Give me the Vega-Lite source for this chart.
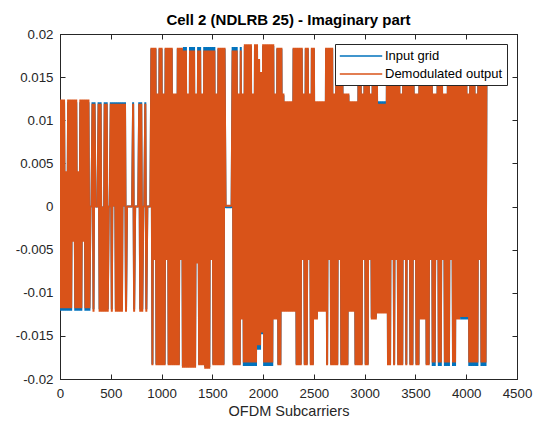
{
"$schema": "https://vega.github.io/schema/vega-lite/v6.json",
"width": 457, "height": 345,
"autosize": "none",
"padding": {"left": 60, "top": 34, "right": 22, "bottom": 46},
"background": "white",
"title": {"text": "Cell 2 (NDLRB 25) - Imaginary part", "font": "Liberation Sans", "fontSize": 15, "fontWeight": "bold", "color": "#000000", "offset": -1},
"config": {"view": {"stroke": "#262626", "strokeWidth": 1}},
"data": {"values": [
{"sc":0,"input":0.0121,"output":0.0124},{"sc":10,"input":-0.0121,"output":-0.0118},{"sc":20,"input":0.0121,"output":0.0124},{"sc":30,"input":-0.0121,"output":-0.0118},{"sc":40,"input":0.0121,"output":0.0124},{"sc":50,"input":-0.0121,"output":-0.0118},{"sc":60,"input":0.004,"output":0.0041},{"sc":70,"input":-0.0121,"output":-0.0118},{"sc":80,"input":0.0121,"output":0.0124},{"sc":90,"input":-0.0121,"output":-0.0118},
{"sc":100,"input":0.0121,"output":0.0124},{"sc":110,"input":-0.0121,"output":-0.0118},{"sc":120,"input":0.0121,"output":0.0124},{"sc":130,"input":-0.004,"output":-0.0041},{"sc":140,"input":0.0121,"output":0.0124},{"sc":150,"input":-0.0121,"output":-0.0118},{"sc":160,"input":0.0121,"output":0.0124},{"sc":170,"input":-0.0121,"output":-0.0118},{"sc":180,"input":0.004,"output":0.0041},{"sc":190,"input":-0.0121,"output":-0.0118},
{"sc":200,"input":0.0121,"output":0.0124},{"sc":210,"input":-0.0121,"output":-0.0118},{"sc":220,"input":0.0121,"output":0.0124},{"sc":230,"input":-0.004,"output":-0.0041},{"sc":240,"input":0.0121,"output":0.0124},{"sc":250,"input":-0.0121,"output":-0.0118},{"sc":260,"input":0.0121,"output":0.0124},{"sc":270,"input":-0.0121,"output":-0.0118},{"sc":280,"input":0.0121,"output":0.0124},{"sc":290,"input":-0.0121,"output":-0.0118},
{"sc":300,"input":0,"output":0},{"sc":310,"input":0,"output":0},{"sc":320,"input":0.0121,"output":0.0119},{"sc":330,"input":-0.0119,"output":-0.0122},{"sc":340,"input":0.0121,"output":0.0119},{"sc":350,"input":0,"output":0},{"sc":360,"input":0,"output":0},{"sc":370,"input":0,"output":0},{"sc":380,"input":0.0121,"output":0.0119},{"sc":390,"input":-0.0119,"output":-0.0122},
{"sc":400,"input":0.0121,"output":0.0119},{"sc":410,"input":-0.0119,"output":-0.0122},{"sc":420,"input":0,"output":0},{"sc":430,"input":-0.0119,"output":-0.0122},{"sc":440,"input":0.0121,"output":0.0119},{"sc":450,"input":-0.0119,"output":-0.0122},{"sc":460,"input":0.0121,"output":0.0119},{"sc":470,"input":-0.0119,"output":-0.0122},{"sc":480,"input":0,"output":0},{"sc":490,"input":0,"output":0},
{"sc":500,"input":0.0121,"output":0.0119},{"sc":510,"input":-0.0119,"output":-0.0122},{"sc":520,"input":0.0121,"output":0.0119},{"sc":530,"input":0,"output":0},{"sc":540,"input":0.0121,"output":0.0119},{"sc":550,"input":-0.0119,"output":-0.0122},{"sc":560,"input":0.0121,"output":0.0119},{"sc":570,"input":-0.0119,"output":-0.0122},{"sc":580,"input":0.0121,"output":0.0119},{"sc":590,"input":-0.0119,"output":-0.0122},
{"sc":600,"input":0.0121,"output":0.0119},{"sc":610,"input":-0.0119,"output":-0.0122},{"sc":620,"input":0.0121,"output":0.0119},{"sc":630,"input":0,"output":0},{"sc":640,"input":0.0121,"output":0.0119},{"sc":650,"input":-0.0119,"output":-0.0122},{"sc":660,"input":0,"output":0},{"sc":670,"input":0,"output":0},{"sc":680,"input":0,"output":0},{"sc":690,"input":0,"output":0},
{"sc":700,"input":0,"output":0},{"sc":710,"input":0,"output":0},{"sc":720,"input":0.0121,"output":0.0119},{"sc":730,"input":-0.0119,"output":-0.0122},{"sc":740,"input":0,"output":0},{"sc":750,"input":0,"output":0},{"sc":760,"input":0,"output":0},{"sc":770,"input":0,"output":0},{"sc":780,"input":0.0121,"output":0.0119},{"sc":790,"input":-0.0119,"output":-0.0122},
{"sc":800,"input":0.0121,"output":0.0119},{"sc":810,"input":-0.0119,"output":-0.0122},{"sc":820,"input":0,"output":0},{"sc":830,"input":0,"output":0},{"sc":840,"input":0.0121,"output":0.0119},{"sc":850,"input":-0.0119,"output":-0.0122},{"sc":860,"input":0,"output":0},{"sc":870,"input":0,"output":0},{"sc":880,"input":0,"output":0},{"sc":890,"input":0,"output":0},
{"sc":900,"input":0.0183,"output":0.0184},{"sc":910,"input":-0.0183,"output":-0.0184},{"sc":920,"input":0.0183,"output":0.0184},{"sc":930,"input":-0.0061,"output":-0.0062},{"sc":940,"input":0.0183,"output":0.0184},{"sc":950,"input":-0.0183,"output":-0.0184},{"sc":960,"input":0.0129,"output":0.0131},{"sc":970,"input":-0.0183,"output":-0.0184},{"sc":980,"input":0.0183,"output":0.0184},{"sc":990,"input":-0.0183,"output":-0.0184},
{"sc":1000,"input":0.0183,"output":0.0184},{"sc":1010,"input":-0.0183,"output":-0.0184},{"sc":1020,"input":0.0129,"output":0.0131},{"sc":1030,"input":-0.0183,"output":-0.0184},{"sc":1040,"input":0.0183,"output":0.0184},{"sc":1050,"input":-0.0061,"output":-0.0062},{"sc":1060,"input":0.0183,"output":0.0184},{"sc":1070,"input":-0.0183,"output":-0.0184},{"sc":1080,"input":0.0183,"output":0.0184},{"sc":1090,"input":-0.0183,"output":-0.0184},
{"sc":1100,"input":0.0183,"output":0.0184},{"sc":1110,"input":-0.0183,"output":-0.0184},{"sc":1120,"input":0.0129,"output":0.0131},{"sc":1130,"input":-0.0183,"output":-0.0184},{"sc":1140,"input":0.0129,"output":0.0131},{"sc":1150,"input":-0.0183,"output":-0.0184},{"sc":1160,"input":0.0183,"output":0.0184},{"sc":1170,"input":-0.0183,"output":-0.0184},{"sc":1180,"input":0.0183,"output":0.0184},{"sc":1190,"input":-0.0061,"output":-0.0062},
{"sc":1200,"input":0.0183,"output":0.0184},{"sc":1210,"input":-0.0185,"output":-0.0187},{"sc":1220,"input":0.0185,"output":0.0181},{"sc":1230,"input":-0.0185,"output":-0.0187},{"sc":1240,"input":0.0185,"output":0.0181},{"sc":1250,"input":-0.0185,"output":-0.0187},{"sc":1260,"input":0.0129,"output":0.0131},{"sc":1270,"input":-0.0185,"output":-0.0187},{"sc":1280,"input":0.0185,"output":0.0181},{"sc":1290,"input":-0.0185,"output":-0.0187},
{"sc":1300,"input":0.0185,"output":0.0181},{"sc":1310,"input":-0.0185,"output":-0.0187},{"sc":1320,"input":0.0185,"output":0.0181},{"sc":1330,"input":-0.0185,"output":-0.0187},{"sc":1340,"input":0.0129,"output":0.0131},{"sc":1350,"input":-0.0065,"output":-0.0066},{"sc":1360,"input":0.0185,"output":0.0181},{"sc":1370,"input":-0.0183,"output":-0.0184},{"sc":1380,"input":0.0185,"output":0.0181},{"sc":1390,"input":-0.0183,"output":-0.0184},
{"sc":1400,"input":0.0129,"output":0.0131},{"sc":1410,"input":-0.0183,"output":-0.0184},{"sc":1420,"input":0.0185,"output":0.0181},{"sc":1430,"input":-0.0186,"output":-0.0188},{"sc":1440,"input":0.0185,"output":0.0181},{"sc":1450,"input":-0.0186,"output":-0.0188},{"sc":1460,"input":0.0185,"output":0.0181},{"sc":1470,"input":-0.0186,"output":-0.0188},{"sc":1480,"input":0.0185,"output":0.0181},{"sc":1490,"input":-0.0061,"output":-0.0062},
{"sc":1500,"input":0.0185,"output":0.0181},{"sc":1510,"input":-0.0183,"output":-0.0184},{"sc":1520,"input":0.0185,"output":0.0181},{"sc":1530,"input":-0.0183,"output":-0.0184},{"sc":1540,"input":0.0129,"output":0.0131},{"sc":1550,"input":-0.0183,"output":-0.0184},{"sc":1560,"input":0.0183,"output":0.0184},{"sc":1570,"input":-0.0183,"output":-0.0184},{"sc":1580,"input":0.0183,"output":0.0184},{"sc":1590,"input":-0.0183,"output":-0.0184},
{"sc":1600,"input":0.0183,"output":0.0184},{"sc":1610,"input":-0.0183,"output":-0.0184},{"sc":1620,"input":0.0183,"output":0.0184},{"sc":1630,"input":-0.0001,"output":0.0001},{"sc":1640,"input":-0.0001,"output":0.0001},{"sc":1650,"input":-0.0001,"output":0.0001},{"sc":1660,"input":-0.0001,"output":0.0001},{"sc":1670,"input":-0.0001,"output":0.0001},{"sc":1680,"input":-0.0001,"output":0.0001},{"sc":1690,"input":-0.0001,"output":0.0001},
{"sc":1700,"input":0.0185,"output":0.0181},{"sc":1710,"input":-0.0183,"output":-0.0184},{"sc":1720,"input":0.0185,"output":0.0181},{"sc":1730,"input":-0.0183,"output":-0.0184},{"sc":1740,"input":0.0185,"output":0.0181},{"sc":1750,"input":-0.0183,"output":-0.0184},{"sc":1760,"input":0.0129,"output":0.0131},{"sc":1770,"input":-0.0183,"output":-0.0184},{"sc":1780,"input":0.0185,"output":0.0181},{"sc":1790,"input":-0.0129,"output":-0.0131},
{"sc":1800,"input":0.0129,"output":0.0131},{"sc":1810,"input":-0.0185,"output":-0.0181},{"sc":1820,"input":0.0186,"output":0.0188},{"sc":1830,"input":-0.0185,"output":-0.0181},{"sc":1840,"input":0.0186,"output":0.0188},{"sc":1850,"input":-0.0185,"output":-0.0181},{"sc":1860,"input":0.0186,"output":0.0188},{"sc":1870,"input":-0.0185,"output":-0.0181},{"sc":1880,"input":0.0186,"output":0.0188},{"sc":1890,"input":-0.0185,"output":-0.0181},
{"sc":1900,"input":0.0129,"output":0.0131},{"sc":1910,"input":-0.0185,"output":-0.0181},{"sc":1920,"input":0.0186,"output":0.0188},{"sc":1930,"input":-0.0185,"output":-0.0181},{"sc":1940,"input":0.0186,"output":0.0188},{"sc":1950,"input":-0.0166,"output":-0.0161},{"sc":1960,"input":0.017,"output":0.0171},{"sc":1970,"input":-0.0166,"output":-0.0161},{"sc":1980,"input":0.0155,"output":0.0156},{"sc":1990,"input":-0.0148,"output":-0.0146},
{"sc":2000,"input":0.0186,"output":0.0188},{"sc":2010,"input":-0.0185,"output":-0.0181},{"sc":2020,"input":0.0186,"output":0.0188},{"sc":2030,"input":-0.0185,"output":-0.0181},{"sc":2040,"input":0.0186,"output":0.0188},{"sc":2050,"input":-0.0185,"output":-0.0181},{"sc":2060,"input":0.0186,"output":0.0188},{"sc":2070,"input":-0.0185,"output":-0.0181},{"sc":2080,"input":0.0186,"output":0.0188},{"sc":2090,"input":-0.0185,"output":-0.0181},
{"sc":2100,"input":0.0186,"output":0.0188},{"sc":2110,"input":-0.0129,"output":-0.0131},{"sc":2120,"input":0.0129,"output":0.0131},{"sc":2130,"input":-0.0129,"output":-0.0131},{"sc":2140,"input":0.0183,"output":0.0184},{"sc":2150,"input":-0.0183,"output":-0.0184},{"sc":2160,"input":0.0183,"output":0.0184},{"sc":2170,"input":-0.0183,"output":-0.0184},{"sc":2180,"input":0.0183,"output":0.0184},{"sc":2190,"input":-0.0121,"output":-0.0122},
{"sc":2200,"input":0.0129,"output":0.0131},{"sc":2210,"input":-0.0121,"output":-0.0122},{"sc":2220,"input":0.0121,"output":0.0122},{"sc":2230,"input":-0.0121,"output":-0.0122},{"sc":2240,"input":0.0121,"output":0.0122},{"sc":2250,"input":-0.0121,"output":-0.0122},{"sc":2260,"input":0.0121,"output":0.0122},{"sc":2270,"input":-0.0121,"output":-0.0122},{"sc":2280,"input":0.0121,"output":0.0122},{"sc":2290,"input":-0.0121,"output":-0.0122},
{"sc":2300,"input":0.0183,"output":0.0184},{"sc":2310,"input":-0.0121,"output":-0.0122},{"sc":2320,"input":0.0183,"output":0.0184},{"sc":2330,"input":-0.0183,"output":-0.0184},{"sc":2340,"input":0.0183,"output":0.0184},{"sc":2350,"input":-0.0183,"output":-0.0184},{"sc":2360,"input":0.0183,"output":0.0184},{"sc":2370,"input":-0.0183,"output":-0.0184},{"sc":2380,"input":0.0183,"output":0.0184},{"sc":2390,"input":-0.0061,"output":-0.0062},
{"sc":2400,"input":0.0129,"output":0.0131},{"sc":2410,"input":-0.0183,"output":-0.0184},{"sc":2420,"input":0.0183,"output":0.0184},{"sc":2430,"input":-0.0183,"output":-0.0184},{"sc":2440,"input":0.0183,"output":0.0184},{"sc":2450,"input":-0.0061,"output":-0.0062},{"sc":2460,"input":0.0129,"output":0.0131},{"sc":2470,"input":-0.0183,"output":-0.0184},{"sc":2480,"input":0.0183,"output":0.0184},{"sc":2490,"input":-0.0183,"output":-0.0184},
{"sc":2500,"input":0.0183,"output":0.0184},{"sc":2510,"input":-0.0129,"output":-0.0131},{"sc":2520,"input":0.0121,"output":0.0122},{"sc":2530,"input":-0.0129,"output":-0.0131},{"sc":2540,"input":0.0121,"output":0.0122},{"sc":2550,"input":-0.0121,"output":-0.0122},{"sc":2560,"input":0.0121,"output":0.0122},{"sc":2570,"input":-0.0121,"output":-0.0122},{"sc":2580,"input":0.0121,"output":0.0122},{"sc":2590,"input":-0.0121,"output":-0.0122},
{"sc":2600,"input":0.0121,"output":0.0122},{"sc":2610,"input":-0.0121,"output":-0.0122},{"sc":2620,"input":0.0183,"output":0.0184},{"sc":2630,"input":-0.0183,"output":-0.0184},{"sc":2640,"input":0.0183,"output":0.0184},{"sc":2650,"input":-0.0061,"output":-0.0062},{"sc":2660,"input":0.0183,"output":0.0184},{"sc":2670,"input":-0.0183,"output":-0.0184},{"sc":2680,"input":0.0183,"output":0.0184},{"sc":2690,"input":-0.0183,"output":-0.0184},
{"sc":2700,"input":0.0129,"output":0.0131},{"sc":2710,"input":-0.0183,"output":-0.0184},{"sc":2720,"input":0.0183,"output":0.0184},{"sc":2730,"input":-0.0183,"output":-0.0184},{"sc":2740,"input":0.0183,"output":0.0184},{"sc":2750,"input":-0.0061,"output":-0.0062},{"sc":2760,"input":0.0183,"output":0.0184},{"sc":2770,"input":-0.0183,"output":-0.0184},{"sc":2780,"input":0.0183,"output":0.0184},{"sc":2790,"input":-0.0183,"output":-0.0184},
{"sc":2800,"input":0.0129,"output":0.0131},{"sc":2810,"input":-0.0183,"output":-0.0184},{"sc":2820,"input":0.0129,"output":0.0131},{"sc":2830,"input":-0.0183,"output":-0.0184},{"sc":2840,"input":0.0129,"output":0.0131},{"sc":2850,"input":-0.0121,"output":-0.0122},{"sc":2860,"input":0.0121,"output":0.0122},{"sc":2870,"input":-0.0121,"output":-0.0122},{"sc":2880,"input":0.0121,"output":0.0122},{"sc":2890,"input":-0.0121,"output":-0.0122},
{"sc":2900,"input":0.0121,"output":0.0122},{"sc":2910,"input":-0.0183,"output":-0.0184},{"sc":2920,"input":0.0121,"output":0.0122},{"sc":2930,"input":-0.0183,"output":-0.0184},{"sc":2940,"input":0.0183,"output":0.0184},{"sc":2950,"input":-0.0183,"output":-0.0184},{"sc":2960,"input":0.0183,"output":0.0184},{"sc":2970,"input":-0.0183,"output":-0.0184},{"sc":2980,"input":0.0129,"output":0.0131},{"sc":2990,"input":-0.0061,"output":-0.0062},
{"sc":3000,"input":0.0183,"output":0.0184},{"sc":3010,"input":-0.0183,"output":-0.0184},{"sc":3020,"input":0.0183,"output":0.0184},{"sc":3030,"input":-0.0183,"output":-0.0184},{"sc":3040,"input":0.0183,"output":0.0184},{"sc":3050,"input":-0.0061,"output":-0.0062},{"sc":3060,"input":0.0129,"output":0.0131},{"sc":3070,"input":-0.0129,"output":-0.0131},{"sc":3080,"input":0.0183,"output":0.0184},{"sc":3090,"input":-0.0129,"output":-0.0131},
{"sc":3100,"input":0.0183,"output":0.0184},{"sc":3110,"input":-0.0129,"output":-0.0131},{"sc":3120,"input":0.0183,"output":0.0184},{"sc":3130,"input":-0.0122,"output":-0.0124},{"sc":3140,"input":0.0122,"output":0.0119},{"sc":3150,"input":-0.0122,"output":-0.0124},{"sc":3160,"input":0.0122,"output":0.0119},{"sc":3170,"input":-0.0122,"output":-0.0124},{"sc":3180,"input":0.0122,"output":0.0119},{"sc":3190,"input":-0.0122,"output":-0.0124},
{"sc":3200,"input":0.0122,"output":0.0119},{"sc":3210,"input":-0.0122,"output":-0.0124},{"sc":3220,"input":0.0183,"output":0.0184},{"sc":3230,"input":-0.0183,"output":-0.0184},{"sc":3240,"input":0.0183,"output":0.0184},{"sc":3250,"input":-0.0183,"output":-0.0184},{"sc":3260,"input":0.0183,"output":0.0184},{"sc":3270,"input":-0.0061,"output":-0.0062},{"sc":3280,"input":0.0183,"output":0.0184},{"sc":3290,"input":-0.0183,"output":-0.0184},
{"sc":3300,"input":0.0183,"output":0.0184},{"sc":3310,"input":-0.0061,"output":-0.0062},{"sc":3320,"input":0.0183,"output":0.0184},{"sc":3330,"input":-0.0183,"output":-0.0184},{"sc":3340,"input":0.0183,"output":0.0184},{"sc":3350,"input":-0.0183,"output":-0.0184},{"sc":3360,"input":0.0129,"output":0.0131},{"sc":3370,"input":-0.0183,"output":-0.0184},{"sc":3380,"input":0.0183,"output":0.0184},{"sc":3390,"input":-0.0061,"output":-0.0062},
{"sc":3400,"input":0.0183,"output":0.0184},{"sc":3410,"input":-0.0183,"output":-0.0184},{"sc":3420,"input":0.0183,"output":0.0184},{"sc":3430,"input":-0.0061,"output":-0.0062},{"sc":3440,"input":0.0183,"output":0.0184},{"sc":3450,"input":-0.0183,"output":-0.0184},{"sc":3460,"input":0.0183,"output":0.0184},{"sc":3470,"input":-0.0183,"output":-0.0184},{"sc":3480,"input":0.0183,"output":0.0184},{"sc":3490,"input":-0.0061,"output":-0.0062},
{"sc":3500,"input":0.0129,"output":0.0131},{"sc":3510,"input":-0.0183,"output":-0.0184},{"sc":3520,"input":0.0129,"output":0.0131},{"sc":3530,"input":-0.0183,"output":-0.0184},{"sc":3540,"input":0.0183,"output":0.0184},{"sc":3550,"input":-0.0129,"output":-0.0131},{"sc":3560,"input":0.0183,"output":0.0184},{"sc":3570,"input":-0.0129,"output":-0.0131},{"sc":3580,"input":0.0183,"output":0.0184},{"sc":3590,"input":-0.0129,"output":-0.0131},
{"sc":3600,"input":0.0183,"output":0.0184},{"sc":3610,"input":-0.0183,"output":-0.0184},{"sc":3620,"input":0.0183,"output":0.0184},{"sc":3630,"input":-0.0183,"output":-0.0184},{"sc":3640,"input":0.0183,"output":0.0184},{"sc":3650,"input":-0.0061,"output":-0.0062},{"sc":3660,"input":0.0183,"output":0.0184},{"sc":3670,"input":-0.0185,"output":-0.0181},{"sc":3680,"input":0.0129,"output":0.0131},{"sc":3690,"input":-0.0185,"output":-0.0181},
{"sc":3700,"input":0.0129,"output":0.0131},{"sc":3710,"input":-0.0061,"output":-0.0062},{"sc":3720,"input":0.0183,"output":0.0184},{"sc":3730,"input":-0.0185,"output":-0.0181},{"sc":3740,"input":0.0183,"output":0.0184},{"sc":3750,"input":-0.0185,"output":-0.0181},{"sc":3760,"input":0.0183,"output":0.0184},{"sc":3770,"input":-0.0061,"output":-0.0062},{"sc":3780,"input":0.0129,"output":0.0131},{"sc":3790,"input":-0.0185,"output":-0.0181},
{"sc":3800,"input":0.0129,"output":0.0131},{"sc":3810,"input":-0.0185,"output":-0.0181},{"sc":3820,"input":0.0183,"output":0.0184},{"sc":3830,"input":-0.0185,"output":-0.0181},{"sc":3840,"input":0.0183,"output":0.0184},{"sc":3850,"input":-0.0061,"output":-0.0062},{"sc":3860,"input":0.0183,"output":0.0184},{"sc":3870,"input":-0.0185,"output":-0.0181},{"sc":3880,"input":0.0183,"output":0.0184},{"sc":3890,"input":-0.0185,"output":-0.0181},
{"sc":3900,"input":0.0183,"output":0.0184},{"sc":3910,"input":-0.0129,"output":-0.0131},{"sc":3920,"input":0.0183,"output":0.0184},{"sc":3930,"input":-0.0129,"output":-0.0131},{"sc":3940,"input":0.0183,"output":0.0184},{"sc":3950,"input":-0.0131,"output":-0.0128},{"sc":3960,"input":0.0183,"output":0.0184},{"sc":3970,"input":-0.0131,"output":-0.0128},{"sc":3980,"input":0.0183,"output":0.0184},{"sc":3990,"input":-0.0131,"output":-0.0128},
{"sc":4000,"input":0.0183,"output":0.0184},{"sc":4010,"input":-0.0131,"output":-0.0128},{"sc":4020,"input":0.0129,"output":0.0131},{"sc":4030,"input":-0.0185,"output":-0.0181},{"sc":4040,"input":0.0183,"output":0.0184},{"sc":4050,"input":-0.0185,"output":-0.0181},{"sc":4060,"input":0.0183,"output":0.0184},{"sc":4070,"input":-0.0185,"output":-0.0181},{"sc":4080,"input":0.0183,"output":0.0184},{"sc":4090,"input":-0.0185,"output":-0.0181},
{"sc":4100,"input":0.0129,"output":0.0131},{"sc":4110,"input":-0.0185,"output":-0.0181},{"sc":4120,"input":0.0183,"output":0.0184},{"sc":4130,"input":-0.0061,"output":-0.0062},{"sc":4140,"input":0.0183,"output":0.0184},{"sc":4150,"input":-0.0185,"output":-0.0181},{"sc":4160,"input":0.0183,"output":0.0184},{"sc":4170,"input":-0.0185,"output":-0.0181},{"sc":4180,"input":0.0183,"output":0.0184},{"sc":4190,"input":-0.0185,"output":-0.0181},
{"sc":4200,"input":0.0183,"output":0.0184}
]},
"resolve": {"axis": {"x": "independent", "y": "independent"}},
"layer": [
{"mark": {"type": "line", "strokeWidth": 2, "strokeJoin": "bevel", "clip": true},
 "encoding": {
  "x": {"field": "sc", "type": "quantitative", "scale": {"domain": [0, 4500], "nice": false},
    "axis": {"values": [0,500,1000,1500,2000,2500,3000,3500,4000,4500], "labelExpr": "format(datum.value, 'd')", "grid": false, "labelFlush": false, "tickSize": -5, "labelPadding": 12, "tickColor": "#262626", "domainColor": "#262626", "labelColor": "#262626", "labelFont": "Liberation Sans", "labelFontSize": 13.3, "title": "OFDM Subcarriers", "titleFont": "Liberation Sans", "titleFontSize": 14.5, "titleFontWeight": "normal", "titleColor": "#262626", "titlePadding": 5}},
  "y": {"field": "input", "type": "quantitative", "scale": {"domain": [-0.02, 0.02], "nice": false, "zero": false},
    "axis": {"values": [-0.02,-0.015,-0.01,-0.005,0,0.005,0.01,0.015,0.02], "grid": false, "tickSize": -5, "labelPadding": 12, "labelExpr": "replace(format(datum.value, '~g'), '\u2212', '-')", "tickColor": "#262626", "domainColor": "#262626", "labelColor": "#262626", "labelFont": "Liberation Sans", "labelFontSize": 13.3, "title": null}},
  "color": {"datum": "Input grid", "type": "nominal", "scale": {"domain": ["Input grid", "Demodulated output"], "range": ["#0072BD", "#D95319"]},
    "legend": {"title": null, "orient": "none", "legendX": 275, "legendY": 10, "symbolType": "M-3,0H3", "symbolSize": 200, "symbolOffset": 14, "symbolStrokeWidth": 1.5, "labelOffset": 16, "labelFont": "Liberation Sans", "labelFontSize": 13, "labelColor": "#000000", "fillColor": "white", "strokeColor": "#262626", "padding": 4, "rowPadding": 3}}
 }},
{"mark": {"type": "line", "strokeWidth": 2, "strokeJoin": "bevel", "clip": true},
 "encoding": {
  "x": {"field": "sc", "type": "quantitative", "axis": null},
  "y": {"field": "output", "type": "quantitative", "axis": null},
  "color": {"datum": "Demodulated output", "type": "nominal"}
 }},
{"mark": {"type": "point", "opacity": 0},
 "encoding": {
  "x": {"field": "sc", "type": "quantitative", "axis": {"orient": "top", "values": [0,500,1000,1500,2000,2500,3000,3500,4000,4500], "labels": false, "grid": false, "tickSize": -5, "tickColor": "#262626", "domainColor": "#262626", "title": null}},
  "y": {"field": "output", "type": "quantitative", "axis": {"orient": "right", "values": [-0.02,-0.015,-0.01,-0.005,0,0.005,0.01,0.015,0.02], "labels": false, "grid": false, "tickSize": -5, "tickColor": "#262626", "domainColor": "#262626", "title": null}}
 }}
]
}
